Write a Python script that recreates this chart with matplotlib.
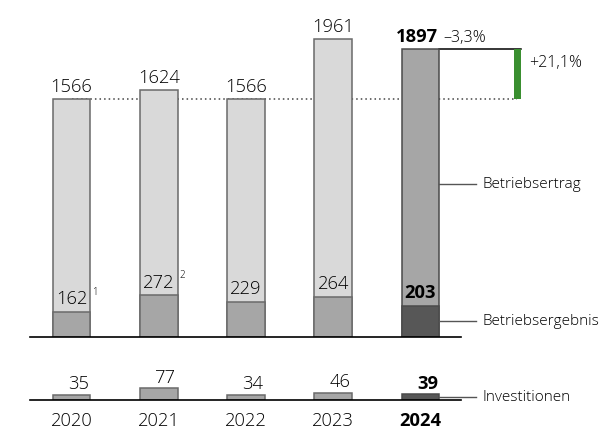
import numpy as np
import matplotlib
matplotlib.use("Agg")
import matplotlib.pyplot as plt

years = ["2020", "2021", "2022", "2023", "2024"]
betriebsertrag = [1566, 1624, 1566, 1961, 1897]
betriebsergebnis = [162, 272, 229, 264, 203]
investitionen = [35, 77, 34, 46, 39]
footnotes = ["1", "2", "", "", ""]
change_prev = "–3,3%"
change_base = "+21,1%"
series_labels = ["Betriebsertrag", "Betriebsergebnis", "Investitionen"]

plt.rcParams['font.family'] = ['Open Sans', 'DejaVu Sans']

W, H = 602, 430
fig = plt.figure(figsize=(W / 100, H / 100), dpi=100)

PXU = 0.1515          # pixels per value unit
XL = (-0.8195, 6.0803)
bw = 0.43
x = np.arange(len(years))
last = len(years) - 1

light = "#d9d9d9"
mid = "#a6a6a6"
dark = "#575757"
edge = "#6a6a6a"
green = "#3a8f30"
txt = "#000000"

main_top = 2150
ax = fig.add_axes([0, (H - 336.5) / H, 1, main_top * PXU / H])
inv_top = 150
ax2 = fig.add_axes([0, (H - 400) / H, 1, inv_top * PXU / H])
for a in (ax, ax2):
    a.set_xlim(*XL)
    a.axis("off")
ax.set_ylim(0, main_top)
ax2.set_ylim(0, inv_top)

NUM = 13.2
LAB = 11.1
LW = "light"

# main bars
ertrag_colors = [light] * last + [mid]
ergebnis_colors = [mid] * last + [dark]
edges = [edge] * last + ["#4a4a4a"]
ax.bar(x, betriebsertrag, bw, color=ertrag_colors, edgecolor=edges, linewidth=1.1, zorder=3)
ax.bar(x, betriebsergebnis, bw, color=ergebnis_colors, edgecolor=edges, linewidth=1.1, zorder=4)

# baselines
ax.plot([-0.476, 4.464], [0, 0], color="black", lw=1.2, zorder=5, clip_on=False)
ax2.plot([-0.476, 4.464], [0, 0], color="black", lw=1.2, zorder=5, clip_on=False)

# reference dotted line at 2020 level and green change bar
gx = 5.11
ax.plot([x[0], gx], [betriebsertrag[0]] * 2, color="#444444", lw=1.1,
        linestyle=(0, (1, 2)), zorder=1)
ax.plot([x[last] + bw / 2, gx + 0.04], [betriebsertrag[last]] * 2, color="black", lw=1.1, zorder=2)
ax.bar(gx, betriebsertrag[last] - betriebsertrag[0], 0.085, bottom=betriebsertrag[0],
       color=green, zorder=3)

# value labels
for i in range(last):
    ax.annotate(str(betriebsertrag[i]), (x[i], betriebsertrag[i]), xytext=(0, 5.4),
                textcoords="offset points", ha="center", va="baseline", fontsize=NUM,
                color=txt, fontweight=LW)
    ax.annotate(str(betriebsergebnis[i]), (x[i], betriebsergebnis[i]), xytext=(0, 5.4),
                textcoords="offset points", ha="center", va="baseline", fontsize=NUM,
                color=txt, zorder=6, fontweight=LW)
    if footnotes[i]:
        ax.annotate(footnotes[i], (x[i] + 0.235, betriebsergebnis[i]), xytext=(0, 14),
                    textcoords="offset points", ha="left", va="center", fontsize=7,
                    color=txt, fontweight=LW)
    ax2.annotate(str(investitionen[i]), (x[i] + bw / 2, investitionen[i]), xytext=(-1, 4.0),
                 textcoords="offset points", ha="right", va="baseline", fontsize=NUM,
                 color=txt, fontweight=LW)

ax.annotate(str(betriebsertrag[last]), (x[last] - 0.04, betriebsertrag[last]), xytext=(0, 5.4),
            textcoords="offset points", ha="center", va="baseline", fontsize=NUM,
            fontweight="bold", color="black")
ax.annotate(change_prev, (4.258, betriebsertrag[last]), xytext=(0, 5.4),
            textcoords="offset points", ha="left", va="baseline", fontsize=11.5,
            color=txt, fontweight=LW)
ax.annotate(change_base, (gx + 0.13, betriebsertrag[last]), xytext=(0, -13),
            textcoords="offset points", ha="left", va="baseline", fontsize=11.5,
            color=txt, fontweight=LW)
ax.annotate(str(betriebsergebnis[last]), (x[last], betriebsergebnis[last]), xytext=(0, 5.4),
            textcoords="offset points", ha="center", va="baseline", fontsize=NUM,
            fontweight="bold", color="black", zorder=6)
ax2.annotate(str(investitionen[last]), (x[last] + bw / 2, investitionen[last]), xytext=(-1, 4.0),
             textcoords="offset points", ha="right", va="baseline", fontsize=NUM,
             fontweight="bold", color="black")

ax2.bar(x, investitionen, bw, color=ergebnis_colors, edgecolor=edges, linewidth=1.1, zorder=3)

# year labels
for i, y in enumerate(years):
    ax2.annotate(y, (x[i], 0), xytext=(0, -18.6), textcoords="offset points",
                 ha="center", va="baseline", fontsize=NUM,
                 fontweight="bold" if i == last else LW, color=txt)

# series labels with leader lines
lx0, lx1, tx = x[last] + bw / 2, 4.636, 4.716
label_pos = [(ax, 1005), (ax, betriebsergebnis[last] / 2), (ax2, investitionen[last] / 2)]
for (a, yv), name in zip(label_pos, series_labels):
    a.plot([lx0, lx1], [yv, yv], color="#555555", lw=1.0, zorder=6)
    a.text(tx, yv, name, ha="left", va="center", fontsize=LAB, color=txt, fontweight=LW)

fig.savefig("out.png", dpi=100)
